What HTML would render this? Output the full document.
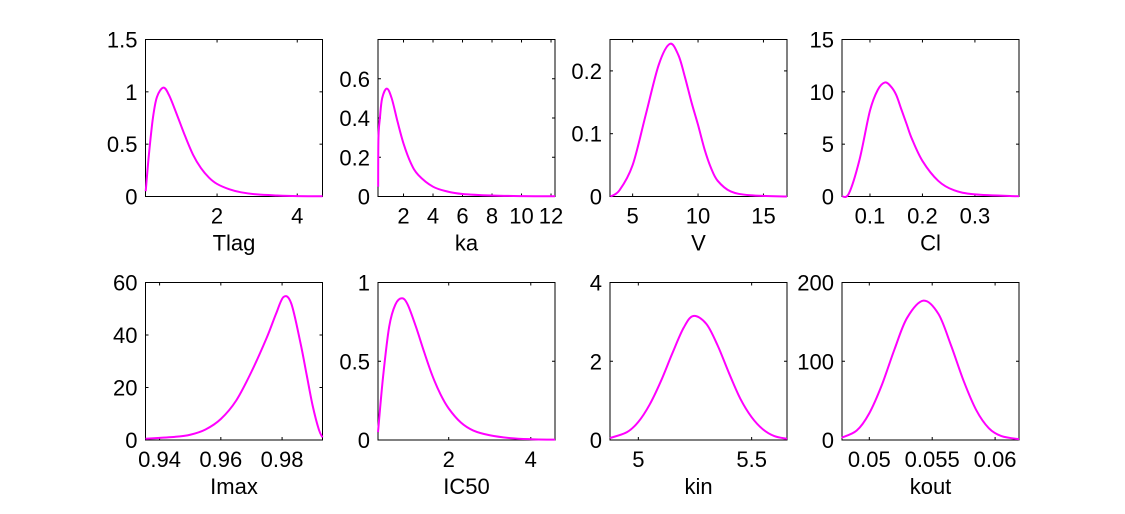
<!DOCTYPE html>
<html><head><meta charset="utf-8"><style>
html,body{margin:0;padding:0;background:#fff}
svg{display:block}
text{font-family:"Liberation Sans",Arial,sans-serif;font-size:22px;fill:#000}
</style></head><body>
<svg id="chart" width="1125" height="514" viewBox="0 0 1125 514"></svg>
<script>
// Panel names
const names = ["Tlag","ka","V","Cl","Imax","IC50","kin","kout"];
// Axis limits
const xLims = [[0.215,4.63],[0.27,12.27],[3.27,16.8],[0.0467,0.384],[0.9354,0.9932],[0.277,4.59],[4.875,5.656],[0.04783,0.0619]];
const yLims = [[0,1.5],[0,0.8],[0,0.25],[0,15],[0,60],[0,1],[0,4],[0,200]];
// Tick values
const xTicks = [[2,4],[2,4,6,8,10,12],[5,10,15],[0.1,0.2,0.3],[0.94,0.96,0.98],[2,4],[5,5.5],[0.05,0.055,0.06]];
const yTicks = [[0,0.5,1,1.5],[0,0.2,0.4,0.6],[0,0.1,0.2],[0,5,10,15],[0,20,40,60],[0,0.5,1],[0,2,4],[0,100,200]];
// Series: x values and density values per panel
const tlagX = [0.22,0.3,0.4,0.5,0.66,0.8,1.0,1.2,1.4,1.6,1.8,2.0,2.3,2.6,3,3.5,4,4.63];
const tlagY = [0.05,0.4,0.75,0.95,1.04,0.97,0.78,0.58,0.4,0.27,0.18,0.12,0.07,0.04,0.02,0.01,0.004,0.002];
const kaX = [0.28,0.3,0.4,0.55,0.87,1.2,1.6,2,2.5,3,4,5,6,8,10,12.27];
const kaY = [0.05,0.3,0.4,0.5,0.55,0.5,0.38,0.27,0.17,0.11,0.05,0.025,0.013,0.005,0.002,0.001];
const vX = [3.3,4,5,6,7,7.85,8.5,9,9.5,10,10.5,11,11.5,12.5,14,16.8];
const vY = [0,0.01,0.05,0.13,0.21,0.243,0.225,0.19,0.15,0.114,0.075,0.045,0.025,0.008,0.002,0];
const clX = [0.047,0.06,0.08,0.1,0.115,0.1286,0.14,0.15,0.16,0.17,0.18,0.2,0.23,0.26,0.3,0.384];
const clY = [0,0.3,3.5,8.2,10.2,10.9,10.5,9.7,8.3,6.9,5.5,3.4,1.5,0.6,0.2,0.02];
const imaxX = [0.9354,0.945,0.95,0.955,0.96,0.965,0.97,0.975,0.978,0.9805,0.983,0.986,0.988,0.99,0.992,0.9932];
const imaxY = [0.5,1.2,2,4,8,15,26,39,48,54.5,52,37,25,13,4,1];
const ic50X = [0.277,0.4,0.55,0.7,0.86,1.0,1.2,1.4,1.6,1.8,2.0,2.3,2.6,3,3.5,4,4.59];
const ic50Y = [0.05,0.4,0.72,0.86,0.9,0.86,0.72,0.56,0.41,0.29,0.2,0.11,0.06,0.03,0.012,0.005,0.002];
const kinX = [4.875,4.95,5,5.05,5.1,5.15,5.2,5.243,5.3,5.35,5.4,5.45,5.5,5.55,5.6,5.656];
const kinY = [0.05,0.2,0.46,0.9,1.5,2.2,2.85,3.15,2.95,2.4,1.7,1.05,0.58,0.27,0.1,0.03];
const koutX = [0.0478,0.049,0.05,0.051,0.052,0.053,0.0543,0.0555,0.0565,0.0575,0.0585,0.0595,0.0605,0.0619];
const koutY = [3,12,34,70,115,155,177,160,120,75,38,15,5,1];
const seriesX = [tlagX,kaX,vX,clX,imaxX,ic50X,kinX,koutX];
const seriesY = [tlagY,kaY,vY,clY,imaxY,ic50Y,kinY,koutY];

const NS = "http://www.w3.org/2000/svg";
const svg = document.getElementById("chart");
const colL = [145.5,378,610,842], colW = 177;
const rowT = [39.5,282.5], rowH = [157,157.5];
function mk(tag, attrs, parent){const e=document.createElementNS(NS,tag);for(const k in attrs)e.setAttribute(k,attrs[k]);parent.appendChild(e);return e;}
function fmt(v){return String(+v.toFixed(4));}
function smooth(pts){
  let d="M"+pts[0][0]+","+pts[0][1];
  for(let i=0;i<pts.length-1;i++){
    const p0=pts[Math.max(0,i-1)],p1=pts[i],p2=pts[i+1],p3=pts[Math.min(pts.length-1,i+2)];
    const c1x=p1[0]+(p2[0]-p0[0])/6,c1y=p1[1]+(p2[1]-p0[1])/6;
    const c2x=p2[0]-(p3[0]-p1[0])/6,c2y=p2[1]-(p3[1]-p1[1])/6;
    d+=" C"+c1x+","+c1y+" "+c2x+","+c2y+" "+p2[0]+","+p2[1];
  }
  return d;
}
for(let i=0;i<8;i++){
  const L=colL[i%4], T=rowT[Math.floor(i/4)], W=colW, H=rowH[Math.floor(i/4)];
  const [x0,x1]=xLims[i],[y0,y1]=yLims[i];
  const sx=v=>L+(v-x0)/(x1-x0)*W, sy=v=>T+H-(v-y0)/(y1-y0)*H;
  const g=mk("g",{},svg);
  
  
  const box=mk("rect",{x:L,y:T,width:W,height:H,fill:"#fff",stroke:"#000","stroke-width":1},g);
  
  
  xTicks[i].forEach(t=>{
    const x=sx(t);
    mk("line",{x1:x,x2:x,y1:T+H,y2:T+H-3,stroke:"#000"},g);
    mk("line",{x1:x,x2:x,y1:T,y2:T+3,stroke:"#000"},g);
    const tx=mk("text",{x:x,y:T+H+27,"text-anchor":"middle"},g);
    tx.textContent=fmt(t);
    
    
  });
  yTicks[i].forEach(t=>{
    const y=sy(t);
    mk("line",{x1:L,x2:L+3,y1:y,y2:y,stroke:"#000"},g);
    mk("line",{x1:L+W,x2:L+W-3,y1:y,y2:y,stroke:"#000"},g);
    const ty=mk("text",{x:L-8,y:y+8,"text-anchor":"end"},g);
    ty.textContent=fmt(t);
    
    
  });
  const pts=seriesX[i].map((v,k)=>[sx(v),sy(seriesY[i][k])]);
  const p=mk("path",{d:smooth(pts),fill:"none",stroke:"#ff00ff","stroke-width":2},g);
  
  
  const xl=mk("text",{x:L+W/2,y:T+H+54,"text-anchor":"middle"},g);
  xl.textContent=names[i];
  
  
}
</script>
</body></html>
